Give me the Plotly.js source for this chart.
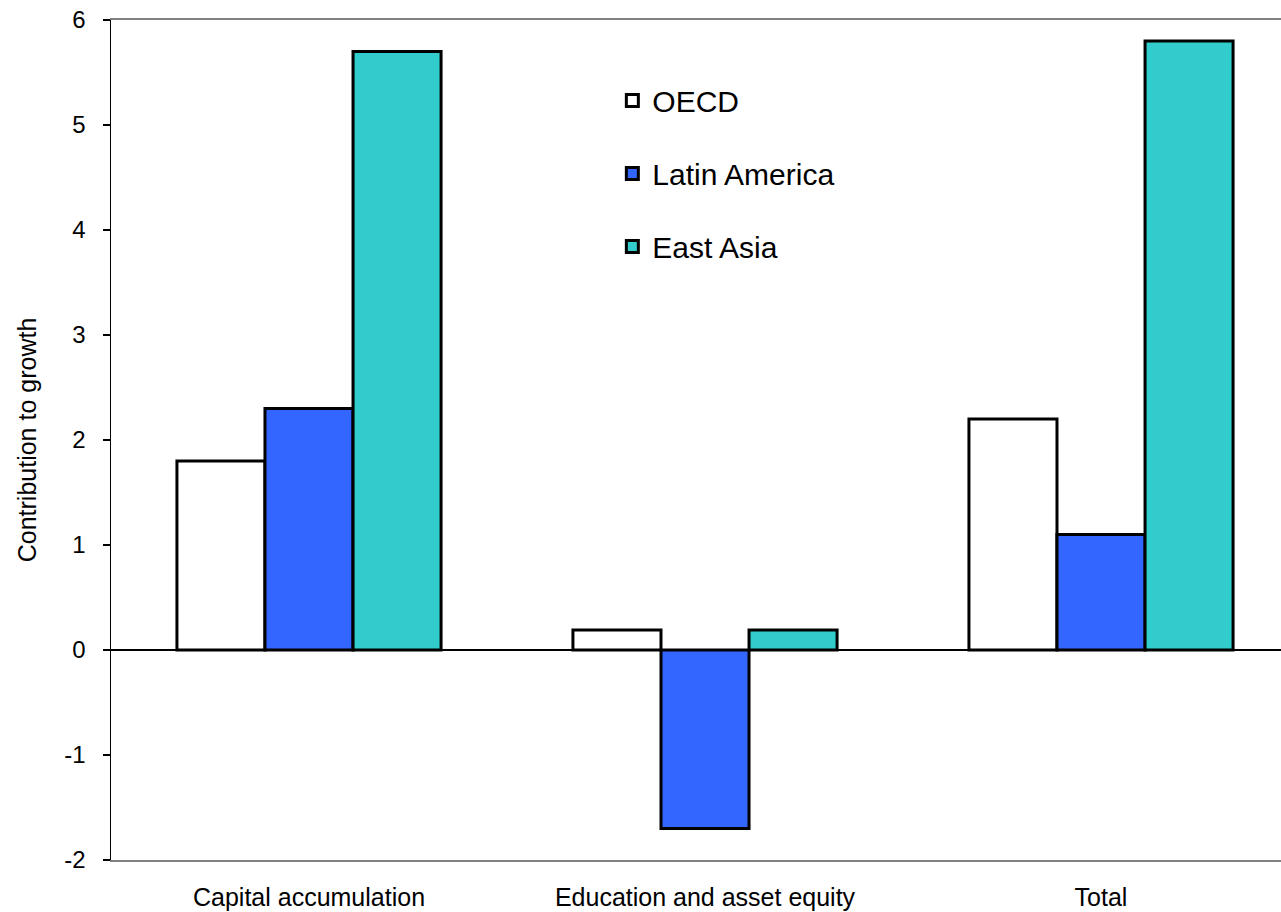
<!DOCTYPE html>
<html>
<head>
<meta charset="utf-8">
<script src="https://cdn.plot.ly/plotly-3.0.1.min.js"></script>
<style>html,body{margin:0;padding:0;background:#fff;}#chart{width:1281px;height:912px;}</style>
</head>
<body>
<div id="chart"></div>
<script>
var categories = ["Capital accumulation", "Education and asset equity", "Total"];
var oecd = [1.8, 0.19, 2.2];
var latinAmerica = [2.3, -1.7, 1.1];
var eastAsia = [5.7, 0.19, 5.8];
var seriesNames = ["OECD", "Latin America", "East Asia"];
var seriesColors = ["#FFFFFF", "#3366FF", "#33CCCC"];
var yTicks = [-2, -1, 0, 1, 2, 3, 4, 5, 6];

var values = [oecd, latinAmerica, eastAsia];
var traces = values.map(function (v, i) {
  return {
    type: "bar",
    name: seriesNames[i],
    x: categories,
    y: v,
    legendgroup: "g" + i,
    marker: { color: seriesColors[i], line: { color: "#000000", width: 3 } },
    hoverinfo: "x+y+name"
  };
});

var layout = {
  width: 1281,
  height: 912,
  paper_bgcolor: "#FFFFFF",
  plot_bgcolor: "#FFFFFF",
  margin: { l: 111, r: 0, t: 20, b: 52 },
  font: { family: "Liberation Sans, Arial, sans-serif", color: "#000000", size: 24 },
  barmode: "group",
  bargap: 0.333,
  bargroupgap: 0,
  showlegend: true,
  legend: {
    x: 0.4285, xanchor: "left",
    y: 0.935, yanchor: "top",
    bgcolor: "rgba(0,0,0,0)",
    font: { size: 30, color: "#000000" },
    tracegroupgap: 31,
    itemclick: false
  },
  xaxis: {
    type: "category",
    range: [-0.5, 2.4545],
    showline: true,
    linecolor: "#808080",
    linewidth: 2,
    mirror: true,
    ticks: "",
    showgrid: false,
    zeroline: false,
    tickfont: { size: 25 },
    ticklabelstandoff: 14,
    fixedrange: true
  },
  yaxis: {
    range: [-2, 6],
    tickvals: yTicks,
    ticktext: yTicks.map(String),
    showline: true,
    linecolor: "#000000",
    linewidth: 1.5,
    ticks: "outside",
    ticklen: 7,
    tickcolor: "#000000",
    tickwidth: 1.5,
    ticklabelstandoff: 12,
    tickfont: { size: 24 },
    showgrid: false,
    zeroline: true,
    zerolinecolor: "#000000",
    zerolinewidth: 1.5,
    title: { text: "Contribution to growth", font: { size: 25 }, standoff: 20 },
    automargin: false,
    fixedrange: true
  }
};

Plotly.newPlot("chart", traces, layout, { displayModeBar: false, staticPlot: true });
</script>
</body>
</html>
